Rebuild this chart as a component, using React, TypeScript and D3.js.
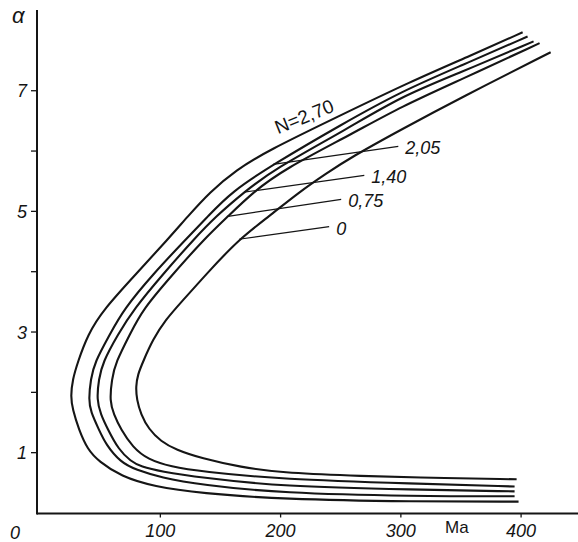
import { useEffect, useRef } from "react";
import * as d3 from "d3";

const W = 578;
const H = 542;

// curves alpha(Ma) for different N: [Ma, alpha]
const curveN0: [number, number][] = [
  [396.7, 0.55], [311.7, 0.58], [259.2, 0.61], [200.8, 0.66], [167.5, 0.75], [134.2, 0.9],
  [113.3, 1.04], [100.8, 1.18], [90.8, 1.38], [84.2, 1.63], [80.8, 1.87], [80, 2.09],
  [81.7, 2.29], [85.8, 2.49], [94.2, 2.87], [105, 3.2], [117.5, 3.48], [140.8, 4.0],
  [165.8, 4.53], [190.8, 4.91], [215.8, 5.31], [238.3, 5.62], [259.2, 5.89], [300.8, 6.35],
  [350.8, 6.88], [425, 7.63],
];
const curveN075: [number, number][] = [
  [395, 0.43], [311.7, 0.48], [200.8, 0.55], [134.2, 0.68], [109.2, 0.76], [90, 0.88],
  [77.5, 1.08], [67.5, 1.38], [61.7, 1.63], [58.3, 1.84], [60, 2.21], [63.3, 2.49],
  [75, 2.95], [85.8, 3.37], [110.8, 3.95], [136.7, 4.53], [156.7, 4.91], [177.5, 5.31],
  [203.3, 5.69], [259.2, 6.27], [300.8, 6.73], [350.8, 7.18], [415.8, 7.78],
];
const curveN140: [number, number][] = [
  [395, 0.35], [311.7, 0.38], [200.8, 0.43], [134.2, 0.58], [100.8, 0.68], [84.2, 0.76],
  [75.8, 0.85], [65.8, 1.04], [56.7, 1.38], [50.8, 1.63], [47.5, 1.87], [49.2, 2.21],
  [52.5, 2.49], [65, 2.95], [78.3, 3.37], [102.5, 3.95], [128.3, 4.53], [146.7, 4.91],
  [170, 5.31], [195, 5.69], [255, 6.35], [300.8, 6.9], [350.8, 7.3], [410.8, 7.81],
];
const curveN205: [number, number][] = [
  [395, 0.27], [311.7, 0.27], [200.8, 0.32], [134.2, 0.46], [100.8, 0.58], [80, 0.71],
  [67.5, 0.83], [55, 1.13], [49.2, 1.38], [42.5, 1.67], [40.8, 1.87], [42.5, 2.21],
  [45.8, 2.49], [58.3, 2.95], [70, 3.37], [94.2, 3.95], [121.7, 4.53], [140, 4.91],
  [159.2, 5.31], [194.2, 5.77], [250.8, 6.43], [300.8, 6.98], [350.8, 7.41], [405.8, 7.89],
];
const curveN270: [number, number][] = [
  [398.3, 0.18], [311.7, 0.18], [200.8, 0.22], [134.2, 0.32], [95, 0.43], [67.5, 0.6],
  [49.2, 0.85], [40, 1.04], [32.5, 1.38], [27.5, 1.71], [25.8, 1.92], [27.5, 2.21],
  [31.7, 2.49], [40, 2.95], [53.3, 3.37], [80, 3.95], [106.7, 4.53], [123.3, 4.91],
  [141.5, 5.31], [163.5, 5.68], [190, 6.0], [246.7, 6.55], [309.2, 7.15], [359.2, 7.58],
  [401.7, 7.96],
];

// leader lines with their labels
const leaderLabels = ["2,05", "1,40", "0,75", "0"];
const leaderFrom: [number, number][] = [[194.2, 5.77], [170, 5.31], [156.7, 4.91], [165.8, 4.53]];
const leaderTo: [number, number][] = [[298.3, 6.07], [270, 5.59], [250.8, 5.19], [240.8, 4.74]];
const topLabel = "N=2,70";
const topLabelAt: [number, number] = [198.3, 6.27];

const alphaTicks = [1, 2, 3, 4, 5, 6, 7];
const alphaTickLabels = ["1", "", "3", "", "5", "", "7"];
const maTicks = [100, 200, 300, 400];
const maTickLabels = ["100", "200", "300", "400"];

const FONT = "'Liberation Sans', Arial, sans-serif";
const INK = "#151515";

export default function App() {
  const ref = useRef<SVGSVGElement>(null);

  useEffect(() => {
    const svg = d3.select(ref.current);
    svg.selectAll("*").remove();

    const x = d3.scaleLinear().domain([0, 400]).range([39.6, 520.6]);
    const y = d3.scaleLinear().domain([0, 8]).range([512.5, 29.9]);
    const axisX = 37;
    const axisY = 513.5;

    // y axis, ticks on the left, only odd values labelled
    const yAxis = d3.axisLeft(y).tickValues(alphaTicks).tickSize(6).tickPadding(4)
      .tickFormat((_d, i) => alphaTickLabels[i]);
    const gy = svg.append("g").attr("transform", `translate(${axisX},0)`).call(yAxis);
    gy.select(".domain").remove();
    gy.selectAll("line").attr("stroke", INK).attr("stroke-width", 1.3);
    gy.selectAll("text").attr("font-family", FONT).attr("font-style", "italic")
      .attr("font-size", 18).attr("fill", INK).attr("dy", "0.36em");

    // x axis
    const xAxis = d3.axisBottom(x).tickValues(maTicks).tickSize(4)
      .tickFormat((_d, i) => maTickLabels[i]);
    const gx = svg.append("g").attr("transform", `translate(0,${axisY})`).call(xAxis);
    gx.select(".domain").remove();
    gx.selectAll("line").attr("stroke", INK).attr("stroke-width", 1.3);
    gx.selectAll("text").attr("font-family", FONT).attr("font-style", "italic")
      .attr("font-size", 18).attr("fill", INK).attr("y", 23.5).attr("dy", 0);

    svg.append("line").attr("x1", axisX).attr("x2", axisX).attr("y1", 10).attr("y2", axisY + 1)
      .attr("stroke", INK).attr("stroke-width", 2);
    svg.append("line").attr("x1", axisX).attr("x2", W).attr("y1", axisY).attr("y2", axisY)
      .attr("stroke", INK).attr("stroke-width", 2);

    svg.append("text").attr("x", 10).attr("y", 539).text("0")
      .attr("font-family", FONT).attr("font-style", "italic").attr("font-size", 18).attr("fill", INK);
    svg.append("text").attr("x", 445).attr("y", 533).text("Ma")
      .attr("font-family", FONT).attr("font-size", 17).attr("fill", INK);
    svg.append("text").attr("x", 12).attr("y", 23).text("α")
      .attr("font-family", FONT).attr("font-style", "italic").attr("font-size", 22).attr("fill", INK);

    // curves
    const line = d3.line<[number, number]>()
      .x(d => x(d[0])).y(d => y(d[1]))
      .curve(d3.curveBasis);
    [curveN0, curveN075, curveN140, curveN205, curveN270].forEach(c => {
      svg.append("path").attr("d", line(c)).attr("fill", "none")
        .attr("stroke", INK).attr("stroke-width", 2.1);
    });

    // leaders and labels
    leaderLabels.forEach((lab, i) => {
      const [a, b] = leaderFrom[i];
      const [c, d] = leaderTo[i];
      svg.append("line").attr("x1", x(a)).attr("y1", y(b)).attr("x2", x(c)).attr("y2", y(d))
        .attr("stroke", INK).attr("stroke-width", 1.2);
      svg.append("text").attr("x", x(c) + 7).attr("y", y(d) + 8).text(lab)
        .attr("font-family", FONT).attr("font-style", "italic").attr("font-size", 18).attr("fill", INK);
    });

    svg.append("text")
      .attr("transform", `translate(${x(topLabelAt[0])},${y(topLabelAt[1])}) rotate(-22)`)
      .text(topLabel)
      .attr("font-family", FONT).attr("font-size", 19).attr("fill", INK);
  }, []);

  return (
    <svg ref={ref} width={W} height={H}
      style={{ position: "absolute", left: 0, top: 0, background: "#fff" }} />
  );
}
